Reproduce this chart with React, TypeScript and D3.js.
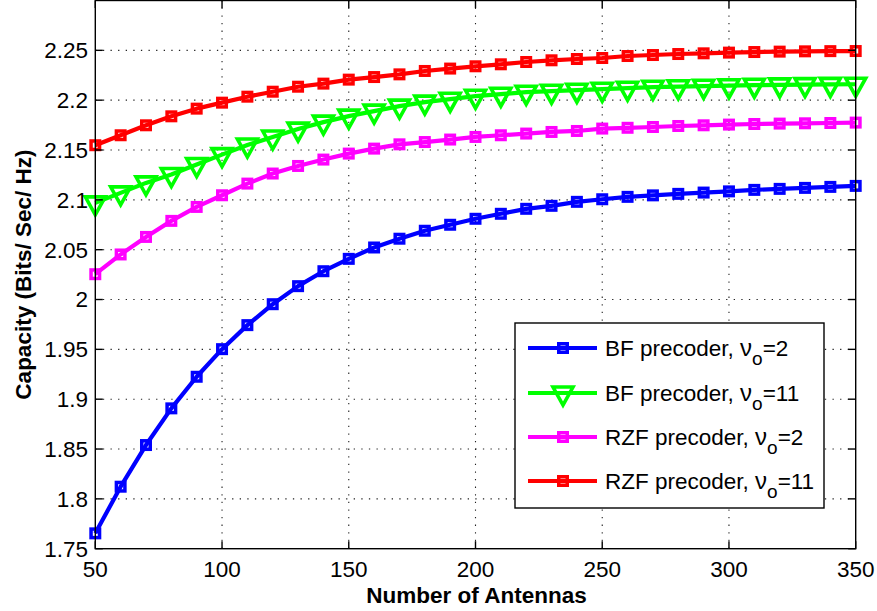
import React from "react";
import * as d3 from "d3";

// Number of antennas (x values)
const antennas = [50, 60, 70, 80, 90, 100, 110, 120, 130, 140, 150, 160, 170, 180, 190, 200, 210, 220, 230, 240, 250, 260, 270, 280, 290, 300, 310, 320, 330, 340, 350];

// Capacity per scheme (bits/sec/Hz)
const bfNu2 = [1.7654, 1.8122, 1.854, 1.8908, 1.9225, 1.9502, 1.9743, 1.9953, 2.0134, 2.0284, 2.0408, 2.0522, 2.061, 2.069, 2.075, 2.081, 2.086, 2.091, 2.094, 2.098, 2.1006, 2.103, 2.1045, 2.106, 2.1073, 2.1085, 2.11, 2.111, 2.112, 2.113, 2.114];
const bfNu11 = [2.097, 2.107, 2.117, 2.1254, 2.1354, 2.1454, 2.155, 2.163, 2.171, 2.178, 2.184, 2.189, 2.194, 2.198, 2.201, 2.204, 2.206, 2.208, 2.209, 2.21, 2.211, 2.212, 2.213, 2.2135, 2.214, 2.2145, 2.215, 2.2153, 2.2156, 2.2158, 2.216];
const rzfNu2 = [2.0254, 2.0452, 2.0628, 2.0789, 2.0929, 2.1046, 2.1163, 2.1264, 2.134, 2.1404, 2.1464, 2.1514, 2.1557, 2.158, 2.1605, 2.1631, 2.1648, 2.1665, 2.1681, 2.1691, 2.1715, 2.1723, 2.1731, 2.1741, 2.1748, 2.1755, 2.1761, 2.1765, 2.1768, 2.1771, 2.1775];
const rzfNu11 = [2.1548, 2.1648, 2.1748, 2.1838, 2.1915, 2.1975, 2.2035, 2.2085, 2.2135, 2.2166, 2.2206, 2.2232, 2.2259, 2.2293, 2.2317, 2.234, 2.236, 2.2383, 2.24, 2.2413, 2.2423, 2.2443, 2.2453, 2.2463, 2.247, 2.2477, 2.2483, 2.2487, 2.249, 2.2492, 2.2493];

// Axis ticks
const xTicks = [50, 100, 150, 200, 250, 300, 350];
const yTicks = [1.75, 1.8, 1.85, 1.9, 1.95, 2, 2.05, 2.1, 2.15, 2.2, 2.25];
const yTickLabels = ["1.75", "1.8", "1.85", "1.9", "1.95", "2", "2.05", "2.1", "2.15", "2.2", "2.25"];

const seriesNames = ["BF precoder, ", "BF precoder, ", "RZF precoder, ", "RZF precoder, "];
const seriesNu = ["2", "11", "2", "11"];
const seriesColors = ["#0000ff", "#00ff00", "#ff00ff", "#ff0000"];
const seriesMarkers = ["square", "triangle", "square", "square"];
const seriesValues = [bfNu2, bfNu11, rzfNu2, rzfNu11];

const W = 877;
const H = 611;
const plot = { left: 95.3, right: 855.7, top: 0.5, bottom: 548.7 };
const FONT = "'Liberation Sans', Arial, Helvetica, sans-serif";

function Marker({ kind, cx, cy, color }: { kind: string; cx: number; cy: number; color: string }) {
  if (kind === "triangle") {
    const hw = 10;
    const top = cy - 6;
    const bot = cy + 12;
    return (
      <path
        d={`M${cx - hw},${top}L${cx + hw},${top}L${cx},${bot}Z`}
        fill="none"
        stroke={color}
        strokeWidth={3.6}
        strokeLinejoin="miter"
      />
    );
  }
  const s = 8.5;
  return (
    <rect x={cx - s / 2} y={cy - s / 2} width={s} height={s} fill="none" stroke={color} strokeWidth={3.5} />
  );
}

export default function App() {
  const x = d3.scaleLinear().domain([50, 350]).range([plot.left, plot.right]);
  const y = d3.scaleLinear().domain([1.75, 2.3]).range([plot.bottom, plot.top]);
  const line = d3
    .line<[number, number]>()
    .x((d) => x(d[0]))
    .y((d) => y(d[1]));

  const tickLen = 7.5;
  const legend = { x0: 515, y0: 323, x1: 824, y1: 508 };
  const legendRows = [348, 393, 437, 481];

  return (
    <svg
      width={W}
      height={H}
      style={{ position: "absolute", left: 0, top: 0, background: "#fff" }}
      fontFamily={FONT}
    >
      <rect x={0} y={0} width={W} height={H} fill="#fff" />

      {/* dotted grid */}
      <g stroke="#222" strokeWidth={1.1} strokeDasharray="1.3,6.3">
        {xTicks.slice(1, -1).map((t) => (
          <line key={"gx" + t} x1={x(t)} x2={x(t)} y1={plot.bottom} y2={plot.top} />
        ))}
        {yTicks.slice(1).map((t) => (
          <line key={"gy" + t} x1={plot.left} x2={plot.right} y1={y(t)} y2={y(t)} />
        ))}
      </g>

      {/* series */}
      {seriesValues.map((vals, i) => {
        const pts = antennas.map((a, j) => [a, vals[j]] as [number, number]);
        return (
          <g key={"s" + i}>
            <path d={line(pts) || ""} fill="none" stroke={seriesColors[i]} strokeWidth={4.2} strokeLinejoin="round" />
            {pts.map((p, j) => (
              <Marker key={j} kind={seriesMarkers[i]} cx={x(p[0])} cy={y(p[1])} color={seriesColors[i]} />
            ))}
          </g>
        );
      })}

      {/* axes box and inward ticks */}
      <g stroke="#000" strokeWidth={1.4} fill="none">
        <rect x={plot.left} y={plot.top} width={plot.right - plot.left} height={plot.bottom - plot.top} />
        {xTicks.map((t) => (
          <g key={"tx" + t}>
            <line x1={x(t)} x2={x(t)} y1={plot.bottom} y2={plot.bottom - tickLen} />
            <line x1={x(t)} x2={x(t)} y1={plot.top} y2={plot.top + tickLen} />
          </g>
        ))}
        {yTicks.map((t) => (
          <g key={"ty" + t}>
            <line x1={plot.left} x2={plot.left + tickLen} y1={y(t)} y2={y(t)} />
            <line x1={plot.right} x2={plot.right - tickLen} y1={y(t)} y2={y(t)} />
          </g>
        ))}
      </g>

      {/* tick labels */}
      <g fontSize={22.5} fill="#000">
        {xTicks.map((t) => (
          <text key={"lx" + t} x={x(t)} y={577} textAnchor="middle">
            {t}
          </text>
        ))}
        {yTicks.map((t, i) => (
          <text key={"ly" + t} x={88} y={y(t)} dy="0.35em" textAnchor="end">
            {yTickLabels[i]}
          </text>
        ))}
      </g>

      {/* axis titles */}
      <text x={(plot.left + plot.right) / 2 + 1} y={603} textAnchor="middle" fontSize={22.5} fontWeight="bold">
        Number of Antennas
      </text>
      <text
        transform={`translate(31,${(plot.top + plot.bottom) / 2}) rotate(-90)`}
        textAnchor="middle"
        fontSize={22.5}
        fontWeight="bold"
      >
        Capacity (Bits/ Sec/ Hz)
      </text>

      {/* legend */}
      <rect
        x={legend.x0}
        y={legend.y0}
        width={legend.x1 - legend.x0}
        height={legend.y1 - legend.y0}
        fill="#fff"
        stroke="#000"
        strokeWidth={1.4}
      />
      {legendRows.map((ry, i) => (
        <g key={"lg" + i}>
          <line x1={528} x2={597} y1={ry} y2={ry} stroke={seriesColors[i]} strokeWidth={4.2} />
          <Marker kind={seriesMarkers[i]} cx={563} cy={ry} color={seriesColors[i]} />
          <text x={605} y={ry} dy="0.35em" fontSize={22.5} fill="#000">
            {seriesNames[i]}
            <tspan fontSize={24}>ν</tspan>
            <tspan fontSize={19} dy={9}>
              o
            </tspan>
            <tspan dy={-9}>={seriesNu[i]}</tspan>
          </text>
        </g>
      ))}
    </svg>
  );
}
